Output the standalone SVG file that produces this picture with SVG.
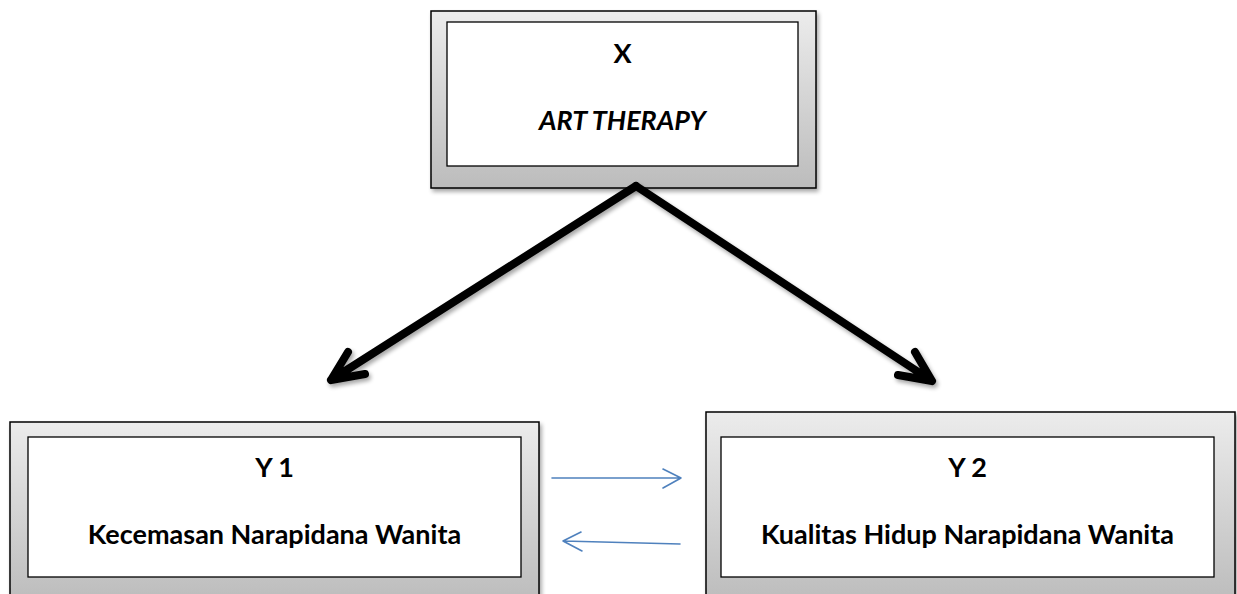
<svg xmlns="http://www.w3.org/2000/svg" width="1237" height="594" viewBox="0 0 1237 594">
<defs>
<linearGradient id="frame" x1="0" y1="0" x2="0" y2="1">
<stop offset="0" stop-color="#ececec"/>
<stop offset="1" stop-color="#bcbcbc"/>
</linearGradient>
<filter id="shadow" x="-10%" y="-10%" width="130%" height="130%">
<feGaussianBlur in="SourceAlpha" stdDeviation="2"/>
<feOffset dx="2" dy="3" result="b"/>
<feComponentTransfer><feFuncA type="linear" slope="0.35"/></feComponentTransfer>
<feMerge><feMergeNode/><feMergeNode in="SourceGraphic"/></feMerge>
</filter>
</defs>
<style>
.outer{fill:url(#frame);stroke:#000;stroke-width:1.5}
.inner{fill:#fff;stroke:#000;stroke-width:1.3}
.t{font-family:Lato,"Liberation Sans",sans-serif;font-weight:bold;fill:#000;text-anchor:middle;font-size:27px}
.big{stroke:#000;stroke-width:8;fill:none;stroke-linecap:round;stroke-linejoin:round}
.blue{stroke:#4f81bd;stroke-width:1.6;fill:none;stroke-linecap:round;stroke-linejoin:round}
</style>
<rect width="1237" height="594" fill="#fff"/>
<g id="node-x">
<rect class="outer" x="431" y="11" width="385" height="177" filter="url(#shadow)"/>
<rect class="inner" x="447" y="22" width="351" height="144"/>
<text class="t" x="622.5" y="63">X</text>
<text class="t" x="622.5" y="130" font-style="italic">ART THERAPY</text>
</g>
<g id="node-y1">
<rect class="outer" x="10" y="422" width="529" height="180" filter="url(#shadow)"/>
<rect class="inner" x="28" y="437" width="493" height="140"/>
<text class="t" x="274.5" y="477">Y 1</text>
<text class="t" x="274.5" y="544">Kecemasan Narapidana Wanita</text>
</g>
<g id="node-y2">
<rect class="outer" x="706" y="412" width="529" height="190" filter="url(#shadow)"/>
<rect class="inner" x="721" y="437" width="493" height="140"/>
<text class="t" x="967.5" y="477">Y 2</text>
<text class="t" x="967.5" y="544">Kualitas Hidup Narapidana Wanita</text>
</g>
<g id="connectors">
<g filter="url(#shadow)">
<path class="big" d="M636 186 L331 380 M348 352 L331 380 L365 374"/>
<path class="big" d="M636 186 L932 381 M915 352 L932 381 L898 375"/>
</g>
<path class="blue" d="M552 478 L681 478 M663 469 L681 478 L663 488"/>
<path class="blue" d="M680 544 L563 541 M581 532 L563 541 L582 551"/>
</g>
</svg>
